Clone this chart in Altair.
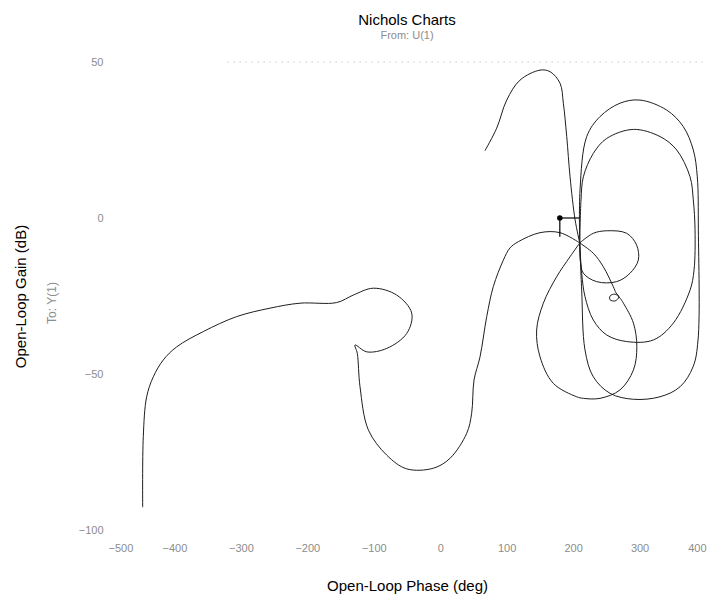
import altair as alt
import pandas as pd

# ---- data (phase in deg, gain in dB) ----
left_phase = [-447.8, -446.9, -441.8, -431.8, -416.8, -396.6, -356.6, -306.3, -256.2, -211.0,
              -155.8, -130.8, -100.7, -65.5, -42.9, -50.4, -80.5, -110.6, -128.2, -124.8,
              -120.7, -108.2, -80.5, -50.4, -10.4, 14.8, 39.9, 47.3, 50.9, 59.9,
              70.0, 79.9, 95.0, 105.0, 117.5, 150.2, 180.3, 210.0]
left_gain = [-92.7, -70.1, -57.3, -50.9, -45.5, -41.3, -36.4, -31.6, -28.9, -27.3,
             -27.1, -24.7, -22.5, -24.7, -30.5, -37.0, -41.8, -42.9, -40.7, -43.4,
             -54.1, -67.9, -76.0, -80.4, -80.2, -77.0, -69.0, -62.6, -51.9, -44.5,
             -31.6, -22.0, -13.5, -9.6, -7.6, -4.7, -4.7, -8.0]

top_phase = [67.4, 85.0, 100.1, 120.1, 150.2, 165.3, 180.3, 185.3, 190.4, 195.4, 203.0, 210.0]
top_gain = [21.6, 28.8, 37.8, 44.2, 47.4, 46.9, 43.2, 36.8, 26.1, 13.2, -0.6, -8.0]

drop_phase = [210.0, 230.4, 245.4, 260.5, 264.6, 269.0, 263.0, 255.6, 255.6, 263.0, 270.6,
              275.7, 290.8, 295.9, 290.8, 270.6, 240.5, 215.4, 205.4, 170.2, 150.2,
              145.1, 155.2, 175.3, 195.4, 210.0]
drop_gain = [-8.0, -11.3, -15.6, -22.0, -24.0, -25.3, -26.6, -26.2, -25.0, -24.4, -25.7,
             -27.3, -33.7, -41.2, -48.7, -55.1, -57.8, -57.8, -57.3, -53.0, -44.5,
             -35.9, -27.3, -18.8, -12.4, -8.0]

loop_phase = [210.0, 230.4, 250.6, 280.6, 295.6, 298.1, 285.7, 265.5, 235.4, 215.4, 211.0, 210.0]
loop_gain = [-8.0, -4.9, -4.1, -4.9, -8.7, -13.5, -17.7, -20.4, -20.4, -17.7, -14.0, -8.0]

outer_phase = [210.0, 210.4, 220.5, 240.5, 270.6, 300.7, 340.8, 365.8, 380.9, 386.9, 388.5,
               388.0, 380.5, 360.9, 330.8, 290.7, 255.6, 230.4, 217.9, 212.9, 210.0]
outer_gain = [-8.0, 9.0, 26.1, 32.5, 36.8, 37.8, 34.6, 29.3, 21.8, 13.2, -3.8,
              -39.1, -47.7, -54.1, -57.3, -58.1, -56.2, -50.9, -42.3, -23.1, -8.0]

inner_phase = [210.0, 211.9, 215.4, 230.4, 250.6, 290.7, 330.8, 355.9, 376.0, 380.9, 383.5,
               382.0, 376.0, 350.8, 320.7, 280.6, 250.6, 230.4, 217.9, 212.9, 210.0]
inner_gain = [-8.0, 5.8, 13.2, 20.7, 25.5, 28.4, 26.1, 21.8, 13.2, 5.8, -3.8,
              -16.7, -23.1, -33.7, -39.1, -39.6, -37.5, -32.7, -25.2, -17.7, -8.0]

# stability margin markers
critical_phase = [180.0]
critical_gain = [0.0]
pm_phase = [180.0, 210.0]   # phase-margin segment at 0 dB
gm_gain = [0.0, -6.0]       # gain-margin segment at 180 deg

x_ticks = [-500, -400, -300, -200, -100, 0, 100, 200, 300, 400]
y_ticks = [-100, -50, 0, 50]
frame_top = [50.0]
frame_span = [-320.0, 400.0]

segments = {
    "left": (left_phase, left_gain),
    "top": (top_phase, top_gain),
    "drop": (drop_phase, drop_gain),
    "loop": (loop_phase, loop_gain),
    "outer": (outer_phase, outer_gain),
    "inner": (inner_phase, inner_gain),
}
rows = []
for name, (ph, g) in segments.items():
    for i, (p, v) in enumerate(zip(ph, g)):
        rows.append({"seg": name, "i": i, "phase": p, "gain": v})
df = pd.DataFrame(rows)

FONT = "Liberation Sans"
GREY = "#8c8c8c"

xscale = alt.Scale(domain=[-500, 400], nice=False, zero=False)
yscale = alt.Scale(domain=[-100, 50], nice=False, zero=False)

xaxis = alt.Axis(values=x_ticks, grid=False, domain=False, ticks=False,
                 labelPadding=12, labelColor=GREY, labelFont=FONT, labelFontSize=11,
                 title="Open-Loop Phase (deg)", titleFont=FONT, titleFontSize=15,
                 titleFontWeight="normal", titleColor="black", titleY=55,
                 titleBaseline="middle")
yaxis = alt.Axis(values=y_ticks, grid=False, domain=False, ticks=False,
                 labelPadding=5, labelColor=GREY, labelFont=FONT, labelFontSize=11,
                 title="Open-Loop Gain (dB)", titleFont=FONT, titleFontSize=15,
                 titleFontWeight="normal", titleColor="black", titleX=-88,
                 titleBaseline="middle")

lines = alt.Chart(df).mark_line(color="#1e1e1e", strokeWidth=1, interpolate="catmull-rom").encode(
    x=alt.X("phase:Q", scale=xscale, axis=xaxis),
    y=alt.Y("gain:Q", scale=yscale, axis=yaxis),
    detail="seg:N",
    order="i:Q",
)

border = alt.Chart(pd.DataFrame({"phase": [frame_span[0]], "x2": [frame_span[1]], "gain": frame_top})).mark_rule(
    color="#b0b0b0", strokeWidth=1, strokeDash=[1, 5]
).encode(x="phase:Q", x2="x2:Q", y="gain:Q")

pm = alt.Chart(pd.DataFrame({"phase": [pm_phase[0]], "x2": [pm_phase[1]], "gain": critical_gain})).mark_rule(
    color="black", strokeWidth=1.2
).encode(x="phase:Q", x2="x2:Q", y="gain:Q")

gm = alt.Chart(pd.DataFrame({"phase": critical_phase, "gain": [gm_gain[0]], "y2": [gm_gain[1]]})).mark_rule(
    color="black", strokeWidth=1.2
).encode(x="phase:Q", y="gain:Q", y2="y2:Q")

dot = alt.Chart(pd.DataFrame({"phase": critical_phase, "gain": critical_gain})).mark_point(
    filled=True, color="black", size=30, opacity=1
).encode(x="phase:Q", y="gain:Q")

to_label = alt.Chart(pd.DataFrame({"t": ["To: Y(1)"]})).mark_text(
    angle=270, font=FONT, fontSize=12, color=GREY, align="center", baseline="middle"
).encode(x=alt.value(-56), y=alt.value(241), text="t:N")

chart = alt.layer(lines, border, pm, gm, dot, to_label).properties(
    width=598, height=468,
    autosize="none",
    background="white",
    padding={"left": 100, "top": 54, "right": 8, "bottom": 78},
    title=alt.TitleParams("Nichols Charts", subtitle="From: U(1)", font=FONT, fontSize=15,
                          fontWeight="normal", color="black", subtitleFont=FONT,
                          subtitleFontSize=11, subtitleColor=GREY, anchor="middle",
                          frame="group", offset=15, subtitlePadding=2),
).configure_view(strokeWidth=0).configure_axis(domain=False, ticks=False, grid=False)

chart.save("out.html", embed_options={"renderer": "svg", "actions": False})
